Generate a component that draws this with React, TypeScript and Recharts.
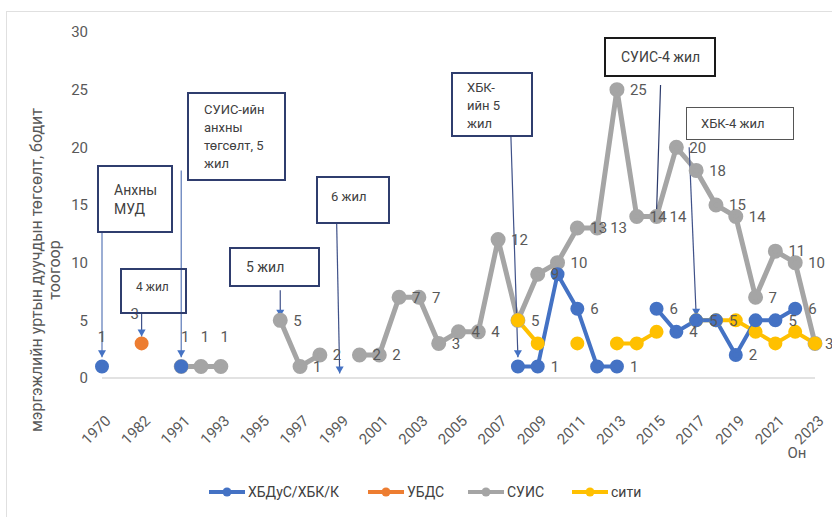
import React from "react";
import { LineChart, Line, XAxis, YAxis, ReferenceLine, LabelList } from "recharts";

const FONT = "Roboto, 'Noto Sans', sans-serif";

// categories (1981 and 1990 are unlabeled slots on the axis)
const years = [
  "1970", "1981", "1982", "1990", "1991", "1992", "1993", "1994", "1995", "1996",
  "1997", "1998", "1999", "2000", "2001", "2002", "2003", "2004", "2005", "2006",
  "2007", "2008", "2009", "2010", "2011", "2012", "2013", "2014", "2015", "2016",
  "2017", "2018", "2019", "2020", "2021", "2022", "2023",
];

const n = null;
// ХБДуС/ХБК/К
const hbdus = [
  1, n, n, n, 1, n, n, n, n, n, n, n, n, n, n, n, n, n, n, n,
  n, 1, 1, 9, 6, 1, 1, n, 6, 4, 5, 5, 2, 5, 5, 6, n,
];
// УБДС
const ubds = [
  n, n, 3, n, n, n, n, n, n, n, n, n, n, n, n, n, n, n, n, n,
  n, n, n, n, n, n, n, n, n, n, n, n, n, n, n, n, n,
];
// СУИС
const suis = [
  n, n, n, n, 1, 1, 1, n, n, 5, 1, 2, n, 2, 2, 7, 7, 3, 4, 4,
  12, 5, 9, 10, 13, 13, 25, 14, 14, 20, 18, 15, 14, 7, 11, 10, 3,
];
// сити
const city = [
  n, n, n, n, n, n, n, n, n, n, n, n, n, n, n, n, n, n, n, n,
  n, 5, 3, n, 3, n, 3, 3, 4, n, 5, 5, 5, 4, 3, 4, 3,
];

const yTicks = [0, 5, 10, 15, 20, 25, 30];

const data = years.map((year, i) => ({
  year,
  hbdus: hbdus[i],
  ubds: ubds[i],
  suis: suis[i],
  city: city[i],
}));

const COLORS = {
  hbdus: "#4472C4",
  ubds: "#ED7D31",
  suis: "#A5A5A5",
  city: "#FFC000",
};

const legendItems = [
  { key: "hbdus", name: "ХБДуС/ХБК/К", left: 209 },
  { key: "ubds", name: "УБДС", left: 368 },
  { key: "suis", name: "СУИС", left: 468 },
  { key: "city", name: "сити", left: 572 },
];

const makeLabel = (skip: number[], above: number[], dxUp = 4) => (props: any) => {
  const { value, index } = props;
  const x = props.x ?? props.viewBox?.x;
  const y = props.y ?? props.viewBox?.y;
  if (value == null || x == null || skip.includes(index)) return null;
  const up = above.includes(index);
  const right = index === years.length - 1 ? 10 : 13;
  return (
    <text
      x={up ? x + dxUp : x + right}
      y={up ? y - 30 : y}
      dy="0.35em"
      textAnchor={up ? "middle" : "start"}
      fontSize={15}
      fill="#595959"
      fontFamily={FONT}
    >
      {value}
    </text>
  );
};

const Leader = ({ x1, y1, x2, y2, dx = 0, head = true, color = "#3f5189" }: any) => {
  if (x1 == null) return null;
  return (
    <g>
      <line x1={x1 + dx} y1={y1} x2={x2} y2={y2} stroke={color} strokeWidth={1.2} />
      {head && (
        <polygon
          points={`${x2 - 4},${y2 - 7} ${x2 + 4},${y2 - 7} ${x2},${y2}`}
          fill="#4472C4"
        />
      )}
    </g>
  );
};

const XTick = ({ x, y, payload }: any) => (
  <g transform={`translate(${x + 6},${y + 32})`}>
    <text
      textAnchor="end"
      dy="0.35em"
      transform="rotate(-45)"
      fontSize={15}
      fill="#595959"
      fontFamily={FONT}
    >
      {payload.value}
    </text>
  </g>
);

const YTitle = () => (
  <text
    transform="translate(36,270) rotate(-90)"
    textAnchor="middle"
    fontSize={16}
    fill="#595959"
    fontFamily={FONT}
  >
    <tspan x={0} dy="0.35em">мэргэжлийн уртын дуучдын төгсөлт, бодит</tspan>
    <tspan x={0} dy={18}>тоогоор</tspan>
  </text>
);

const XTitle = () => (
  <text x={797} y={458} textAnchor="middle" fontSize={15} fill="#595959" fontFamily={FONT}>
    Он
  </text>
);

const boxes = [
  { text: ["Анхны", "МУД"], left: 97, top: 165, width: 76, height: 68, border: "2px solid #2f3d6e", pad: "14px 0 0 15px", size: 14 },
  { text: ["4 жил"], left: 120, top: 268, width: 67, height: 46, border: "2px solid #2f3d6e", pad: "9px 0 0 14px", size: 12 },
  { text: ["СУИС-ийн", "анхны", "төгсөлт, 5", "жил"], left: 187, top: 92, width: 99, height: 89, border: "2px solid #2f3d6e", pad: "7px 0 0 15px", size: 13 },
  { text: ["5 жил"], left: 229, top: 247, width: 91, height: 40, border: "2px solid #2f3d6e", pad: "9px 0 0 15px", size: 14 },
  { text: ["6 жил"], left: 316, top: 176, width: 74, height: 48, border: "2px solid #2f3d6e", pad: "10px 0 0 13px", size: 13 },
  { text: ["ХБК-", "ийн 5", "жил"], left: 451, top: 72, width: 82, height: 65, border: "2px solid #2f3d6e", pad: "5px 0 0 14px", size: 13 },
  { text: ["СУИС-4 жил"], left: 604, top: 37, width: 112, height: 40, border: "2.5px solid #1a1a1a", pad: "9px 0 0 15px", size: 14 },
  { text: ["ХБК-4 жил"], left: 686, top: 107, width: 108, height: 33, border: "1.5px solid #555", pad: "7px 0 0 14px", size: 13 },
];

export default function App() {
  return (
    <div
      style={{
        position: "absolute",
        left: 0,
        top: 0,
        width: 832,
        height: 517,
        overflow: "hidden",
        background: "#fff",
        fontFamily: FONT,
      }}
    >
      <div
        style={{
          position: "absolute",
          left: 6,
          top: 11,
          width: 900,
          height: 600,
          borderLeft: "1px solid #e0e0e0",
          borderTop: "1px solid #e0e0e0",
        }}
      />
      <LineChart
        width={832}
        height={517}
        data={data}
        margin={{ top: 32, right: 17, left: 0, bottom: 79 }}
        style={{ position: "absolute", left: 0, top: 0 }}
      >
        <XAxis
          dataKey="year"
          interval={1}
          tickLine={false}
          axisLine={{ stroke: "#d9d9d9", strokeWidth: 1.5 }}
          tick={<XTick />}
          height={60}
          label={{ content: <XTitle /> }}
        />
        <YAxis
          domain={[0, 30]}
          ticks={yTicks}
          width={102}
          axisLine={false}
          tickLine={false}
          tickSize={6}
          tickMargin={8}
          tick={{ fontSize: 15, fill: "#595959", fontFamily: FONT }}
          label={{ content: <YTitle /> }}
        />
        <Line dataKey="suis" name="СУИС" stroke={COLORS.suis} strokeWidth={5}
          dot={{ r: 5, fill: COLORS.suis, stroke: COLORS.suis }} isAnimationActive={false}>
          <LabelList dataKey="suis" content={makeLabel([], [4, 5, 6])} />
        </Line>
        <Line dataKey="city" name="сити" stroke={COLORS.city} strokeWidth={4}
          dot={{ r: 5, fill: COLORS.city, stroke: COLORS.city }} isAnimationActive={false} />
        <Line dataKey="hbdus" name="ХБДуС/ХБК/К" stroke={COLORS.hbdus} strokeWidth={4}
          dot={{ r: 5, fill: COLORS.hbdus, stroke: COLORS.hbdus }} isAnimationActive={false}>
          <LabelList dataKey="hbdus" content={makeLabel([4, 21, 23, 25, 33], [0], 0)} />
        </Line>
        <Line dataKey="ubds" name="УБДС" stroke={COLORS.ubds} strokeWidth={4}
          dot={{ r: 5, fill: COLORS.ubds, stroke: COLORS.ubds }} isAnimationActive={false}>
          <LabelList dataKey="ubds" content={makeLabel([], [2], -7)} />
        </Line>

        <ReferenceLine ifOverflow="visible" segment={[{ x: "1970", y: 12.6 }, { x: "1970", y: 1.8 }]}
          shape={(p: any) => <Leader {...p} color="#5a78b8" />} />
        <ReferenceLine ifOverflow="visible" segment={[{ x: "1982", y: 5.6 }, { x: "1982", y: 3.6 }]}
          shape={(p: any) => <Leader {...p} />} />
        <ReferenceLine ifOverflow="visible" segment={[{ x: "1991", y: 18 }, { x: "1991", y: 1.8 }]}
          shape={(p: any) => <Leader {...p} color="#5a78b8" />} />
        <ReferenceLine ifOverflow="visible" segment={[{ x: "1996", y: 7.6 }, { x: "1996", y: 5.3 }]}
          shape={(p: any) => <Leader {...p} />} />
        <ReferenceLine ifOverflow="visible" segment={[{ x: "1999", y: 13.4 }, { x: "1999", y: 0.4 }]}
          shape={(p: any) => <Leader {...p} dx={-3} />} />
        <ReferenceLine ifOverflow="visible" segment={[{ x: "2008", y: 20.9 }, { x: "2008", y: 1.8 }]}
          shape={(p: any) => <Leader {...p} dx={-7} />} />
        <ReferenceLine ifOverflow="visible" segment={[{ x: "2015", y: 25.4 }, { x: "2015", y: 14.4 }]}
          shape={(p: any) => <Leader {...p} dx={4} head={false} color="#2b3a6b" />} />
        <ReferenceLine ifOverflow="visible" segment={[{ x: "2017", y: 20 }, { x: "2017", y: 5.4 }]}
          shape={(p: any) => <Leader {...p} dx={-7} />} />
      </LineChart>

      {boxes.map((b, i) => (
        <div
          key={i}
          style={{
            position: "absolute",
            left: b.left,
            top: b.top,
            width: b.width,
            height: b.height,
            boxSizing: "border-box",
            border: b.border,
            padding: b.pad,
            fontSize: b.size,
            lineHeight: `${b.size + 5}px`,
            color: "#404040",
            pointerEvents: "none",
          }}
        >
          {b.text.map((t, j) => (
            <div key={j}>{t}</div>
          ))}
        </div>
      ))}

      {legendItems.map((item) => {
        const c = COLORS[item.key as keyof typeof COLORS];
        return (
          <div
            key={item.key}
            style={{
              position: "absolute",
              left: item.left,
              top: 483,
              height: 18,
              display: "flex",
              alignItems: "center",
              fontSize: 14,
              color: "#404040",
            }}
          >
            <svg width={36} height={12} style={{ marginRight: 3 }}>
              <line x1={0} y1={6} x2={36} y2={6} stroke={c} strokeWidth={4} />
              <circle cx={18} cy={6} r={4.5} fill={c} />
            </svg>
            <span>{item.name}</span>
          </div>
        );
      })}
    </div>
  );
}
